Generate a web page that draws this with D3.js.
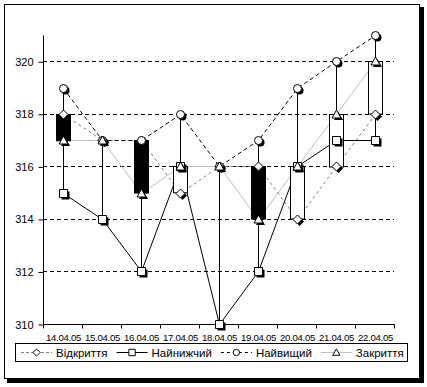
<!DOCTYPE html>
<meta charset="utf-8">
<script src="https://d3js.org/d3.v7.min.js"></script>
<style>
  body { margin: 0; background: #fff; }
  text { font-family: 'Liberation Sans', Arial, sans-serif; fill: #000; }
</style>
<div id="chart"></div>
<script>

// values
var dates  = ["14.04.05", "15.04.05", "16.04.05", "17.04.05", "18.04.05", "19.04.05", "20.04.05", "21.04.05", "22.04.05"];
var openV  = [318, 317, 317, 315, 316, 316, 314, 316, 318];
var highV  = [319, 317, 317, 318, 316, 317, 319, 320, 321];
var lowV   = [315, 314, 312, 316, 310, 312, 316, 317, 317];
var closeV = [317, 317, 315, 316, 316, 314, 316, 318, 320];
var yTicks = [310, 312, 314, 316, 318, 320];
var seriesNames = ["Відкриття", "Найнижчий", "Найвищий", "Закриття"];

var W = 427, H = 387;
var svg = d3.select("#chart").append("svg")
    .attr("width", W).attr("height", H);

// outer frame with shadow
svg.append("rect").attr("x", 7).attr("y", 379).attr("width", 417).attr("height", 4).attr("fill", "#000");
svg.append("rect").attr("x", 420).attr("y", 7).attr("width", 4).attr("height", 376).attr("fill", "#000");
svg.append("rect").attr("x", 4.5).attr("y", 4.5).attr("width", 415).attr("height", 374)
    .attr("fill", "#fff").attr("stroke", "#000");

var x = d3.scaleBand().domain(dates).range([43, 394]);
var y = d3.scaleLinear().domain([310, 321]).range([324, 35]);
var cx = function(i) { return Math.round(x(dates[i]) + x.bandwidth() / 2) + 0.5; };
var py = function(v) { return Math.round(y(v)) + 0.5; };

// grid lines
svg.append("g").selectAll("line")
  .data(yTicks.filter(function(v) { return v > 310; }))
  .enter().append("line")
    .attr("x1", 43).attr("x2", 394)
    .attr("y1", py).attr("y2", py)
    .attr("stroke", "#000").attr("stroke-dasharray", "4,3");

// axes
var yAxis = svg.append("g").attr("transform", "translate(43.5,0.5)")
  .call(d3.axisLeft(y).tickValues(yTicks).tickSize(5).tickPadding(5).tickFormat(d3.format("d")));
yAxis.select(".domain").attr("d", "M-0," + Math.round(y(321)) + "V" + Math.round(y(310)));
yAxis.selectAll("text").style("font-size", "11px").attr("font-family", null);

var xAxis = svg.append("g").attr("transform", "translate(0.5," + (Math.round(y(310)) + 0.5) + ")");
xAxis.append("line").attr("x1", 43).attr("x2", 394).attr("stroke", "#000");
xAxis.selectAll(".tk").data(d3.range(dates.length + 1)).enter().append("line")
    .attr("x1", function(i) { return Math.round(43 + i * x.step()); })
    .attr("x2", function(i) { return Math.round(43 + i * x.step()); })
    .attr("y1", 0).attr("y2", 4).attr("stroke", "#000");
xAxis.selectAll(".lbl").data(dates).enter().append("text")
    .attr("x", function(d, i) { return cx(i) - 0.5; })
    .attr("y", 16)
    .attr("text-anchor", "middle")
    .style("font-size", "9.6px")
    .style("letter-spacing", "-0.3px")
    .text(function(d) { return d; });

// series lines
var lineGen = d3.line().x(function(d, i) { return cx(i); }).y(function(d) { return py(d); });
var lineStyles = [
  { data: openV,  stroke: "#808080", dash: "3,3" },
  { data: highV,  stroke: "#000",    dash: "4,3" },
  { data: closeV, stroke: "#c0c0c0", dash: null },
  { data: lowV,   stroke: "#000",    dash: null }
];
lineStyles.forEach(function(s) {
  svg.append("path").attr("d", lineGen(s.data))
    .attr("fill", "none").attr("stroke", s.stroke)
    .attr("stroke-dasharray", s.dash);
});

// high-low lines
svg.append("g").selectAll("line").data(dates).enter().append("line")
    .attr("x1", function(d, i) { return cx(i); })
    .attr("x2", function(d, i) { return cx(i); })
    .attr("y1", function(d, i) { return py(highV[i]); })
    .attr("y2", function(d, i) { return py(Math.min(lowV[i], openV[i], closeV[i])); })
    .attr("stroke", "#000");

// up / down bars
svg.append("g").selectAll("rect").data(dates).enter()
  .filter(function(d, i) { return openV[i] !== closeV[i]; })
  .append("rect")
    .attr("x", function(d) { return cx(dates.indexOf(d)) - 7; })
    .attr("y", function(d) { var i = dates.indexOf(d); return py(Math.max(openV[i], closeV[i])); })
    .attr("width", 14)
    .attr("height", function(d) { var i = dates.indexOf(d); return Math.abs(y(openV[i]) - y(closeV[i])); })
    .attr("fill", function(d) { var i = dates.indexOf(d); return closeV[i] < openV[i] ? "#000" : "#fff"; })
    .attr("stroke", "#000");

// markers
var shapes = {
  diamond:  "M0,-4.5L4.5,0L0,4.5L-4.5,0Z",
  square:   "M-4,-4H4V4H-4Z",
  circle:   "M-4,0A4,4 0 1,0 4,0A4,4 0 1,0 -4,0Z",
  triangle: "M0,-4.5L4.5,3.5H-4.5Z"
};
var markerSets = [
  { data: openV,  shape: "diamond" },
  { data: lowV,   shape: "square" },
  { data: highV,  shape: "circle" },
  { data: closeV, shape: "triangle" }
];
markerSets.forEach(function(m) {
  var g = svg.append("g");
  m.data.forEach(function(v, i) {
    g.append("path").attr("d", shapes[m.shape])
      .attr("transform", "translate(" + (cx(i) + 2) + "," + (py(v) + 2) + ")")
      .attr("fill", "#000");
    g.append("path").attr("d", shapes[m.shape])
      .attr("transform", "translate(" + cx(i) + "," + py(v) + ")")
      .attr("fill", "#fff").attr("stroke", "#000");
  });
});

// legend
var legend = svg.append("g");
legend.append("rect").attr("x", 15.5).attr("y", 343.5).attr("width", 392).attr("height", 18)
    .attr("fill", "#fff").attr("stroke", "#000");
var legendStyles = [
  { stroke: "#808080", dash: "3,2", shape: "diamond" },
  { stroke: "#000",    dash: null,  shape: "square" },
  { stroke: "#000",    dash: "3,3", shape: "circle" },
  { stroke: "#c0c0c0", dash: null,  shape: "triangle" }
];
var lx = 21;
seriesNames.forEach(function(name, k) {
  var s = legendStyles[k];
  var g = legend.append("g");
  g.append("line").attr("x1", lx).attr("x2", lx + 31).attr("y1", 352.5).attr("y2", 352.5)
    .attr("stroke", s.stroke).attr("stroke-dasharray", s.dash);
  g.append("path").attr("d", shapes[s.shape])
    .attr("transform", "translate(" + (lx + 15.5) + ",352.5) scale(0.8)")
    .attr("fill", "#fff").attr("stroke", "#000").attr("stroke-width", 1.2);
  var t = g.append("text").attr("x", lx + 35).attr("y", 357)
    .style("font-size", "11.5px").text(name);
  lx += 35 + t.node().getComputedTextLength() + 9;
});

</script>
